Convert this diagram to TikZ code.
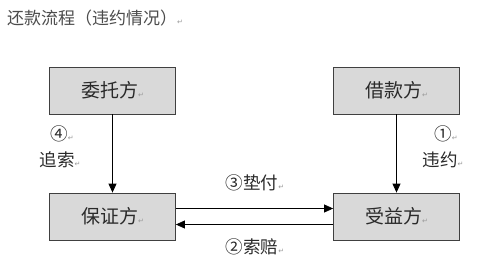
\documentclass[tikz,border=0pt]{standalone}
\usepackage{fontspec}
\setmainfont{Noto Sans CJK SC}
\newfontfamily\dejavu{DejaVu Sans}
\usetikzlibrary{arrows.meta, positioning}
\definecolor{boxgray}{HTML}{D9D9D9}
\definecolor{linegray}{HTML}{404040}
\definecolor{textgray}{HTML}{2A2A2A}
\newcommand{\retmark}{{\color{black!40}\fontsize{7}{7}\dejavu ↵}}

\tikzset{
party/.style={
draw=linegray,
line width=0.8pt,
fill=boxgray,
minimum width=126pt,
minimum height=47pt,
inner sep=0pt,
text=textgray,
font=\fontsize{19}{19}\selectfont
},
flowlabel/.style={
text=textgray,
inner sep=0pt,
font=\fontsize{17.5}{17.5}\selectfont
},
flowarrow/.style={
draw=black,
line width=0.8pt,
-{Triangle[length=9pt,width=8pt]}
}
}

\begin{document}
\begin{tikzpicture}[x=1pt,y=-1pt]
\useasboundingbox[fill=white] (0,0) rectangle (500,267);

% -------- Title --------
\node[flowlabel, anchor=west, font=\fontsize{17}{17}\selectfont, text=black!70] (title) at (7,18)
{还款流程（违约情况）\retmark};

% -------- Parties --------
\node[party] (weituo) at (112.5,90.5) {委托方\retmark};
\node[party] (jiekuan) at (396.5,90.5) {借款方\retmark};
\node[party] (baozheng) at (112.5,216.5) {保证方\retmark};
\node[party] (shouyi) at (396.5,216.5) {受益方\retmark};

% -------- Connectors --------
\draw[flowarrow] (weituo) -- (baozheng);
\draw[flowarrow] (jiekuan) -- (shouyi);
\draw[flowarrow] ([yshift=8pt]baozheng.east) -- ([yshift=8pt]shouyi.west);
\draw[flowarrow] ([yshift=-8pt]shouyi.west) -- ([yshift=-8pt]baozheng.east);

% -------- Labels --------
\node[flowlabel] (num4) at (62,134) {④\retmark};
\node[flowlabel] (zhuisuo) at (60,160) {追索\retmark};
\node[flowlabel] (num1) at (446,134) {①\retmark};
\node[flowlabel] (weiyue) at (443,160) {违约\retmark};
\node[flowlabel] (dianfu) at (255,183) {③垫付\retmark};
\node[flowlabel] (suopei) at (255,247) {②索赔\retmark};

\end{tikzpicture}
\end{document}
